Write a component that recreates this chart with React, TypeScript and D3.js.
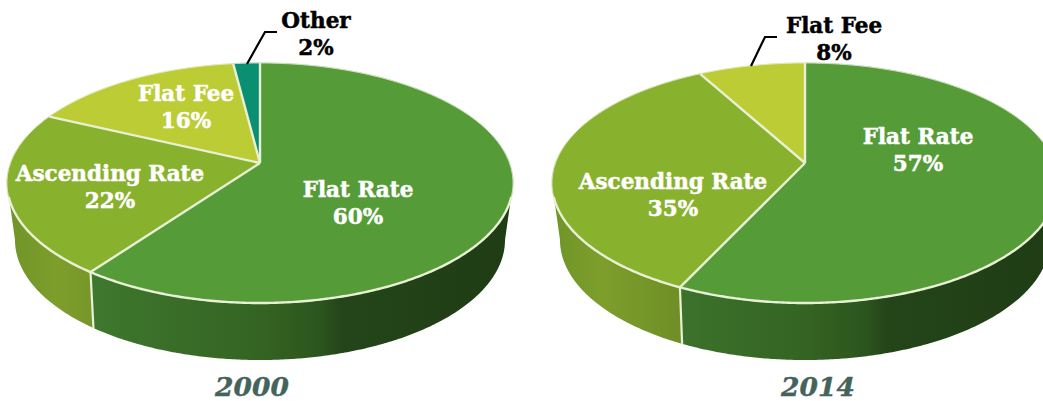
import React from 'react';
import * as d3 from "d3";

const width = 1043;
const height = 401;

const years = ["2000", "2014"];
const categories2000 = ["Flat Rate", "Ascending Rate", "Flat Fee", "Other"];
const values2000 = [60, 22, 16, 2];
const categories2014 = ["Flat Rate", "Ascending Rate", "Flat Fee"];
const values2014 = [57, 35, 8];

const topColors: any = {
    "Flat Rate": "#559c39",
    "Ascending Rate": "#88b12e",
    "Flat Fee": "#bbcc35",
    "Other": "#0b8f73",
};

// horizontal shading of the rim, offset is a share of the pie's width
const sideStops: any = {
    "Flat Rate": [[0.14, "#3f7a2e"], [0.3, "#3a6f29"], [0.5, "#346422"], [0.62, "#2c551e"], [0.66, "#24451a"], [1, "#1f3c14"]],
    "Ascending Rate": [[0, "#6f9428"], [0.1, "#7d9e2b"], [0.3, "#6a8a25"]],
    "Flat Fee": [[0, "#8a9a2b"], [1, "#8a9a2b"]],
    "Other": [[0, "#0a6f5a"], [1, "#0a6f5a"]],
};

const pieLayouts = [
    {
        cx: 260,
        yearX: 252,
        labels: [
            { x: 358, y: 197, fill: "#fff" },
            { x: 110, y: 181, fill: "#fff" },
            { x: 186, y: 101, fill: "#fff" },
            { x: 316, y: 28, fill: "#000" },
        ],
        leader: [[247, 64], [265, 32], [277, 32]],
    },
    {
        cx: 805,
        yearX: 818,
        labels: [
            { x: 918, y: 144, fill: "#fff" },
            { x: 673, y: 189, fill: "#fff" },
            { x: 834, y: 33, fill: "#000" },
        ],
        leader: [[751, 66], [765, 37], [777, 37]],
    },
];

// the top face is a tilted circle, so the pie's centre sits above the ellipse's centre
const rx = 253;
const ry = 120;
const cy = 183;
const apexY = 163;
const bottomRx = 245;
const bottomRy = 120;
const bottomCy = 240;
const vanishY = 3500;
const edgeColor = "#e9f0d6";
const labelFont = "'DejaVu Serif', serif";

const project = (cx: number, angle: number): [number, number] => {
    const y0 = (apexY - cy) / ry;
    const u = Math.sin(angle);
    const v = -Math.cos(angle);
    const d = 1 + v * y0;
    return [cx + rx * u * Math.sqrt(1 - y0 * y0) / d, cy + ry * (v + y0) / d];
};

// walk a rim point towards the vanishing point below the pie
const extrude = (cx: number, p: [number, number], len: number): [number, number] => {
    const dx = cx - p[0];
    const dy = vanishY - p[1];
    const t = len / dy;
    return [p[0] + dx * t, p[1] + dy * t];
};

const line = d3.line();
const samples = (a0: number, a1: number) => {
    const n = Math.max(2, Math.ceil((a1 - a0) / 0.01));
    return d3.range(n + 1).map((i) => a0 + ((a1 - a0) * i) / n);
};

function Pie3D({ year, categories, values, layout, index }: any) {
    const { cx } = layout;
    const arcs = d3.pie<number>().sort(null)(values);
    const toX = d3.scaleLinear().domain([0, 1]).range([cx - rx, cx + rx]);

    const ellipseBottom = (r: number, h: number, c: number) =>
        samples(0, Math.PI).map((t) => [cx + r * Math.cos(t), c + h * Math.sin(t)] as [number, number]);
    const hull = [...ellipseBottom(rx, ry, cy), ...ellipseBottom(bottomRx, bottomRy, bottomCy).reverse()];
    const clipId = `rim-${index}`;

    const rimPoints = samples(0, 2 * Math.PI).map((t) => project(cx, t));
    const frontRim = rimPoints.filter((p) => p[1] >= cy + 14);

    return (
        <g>
            <defs>
                <clipPath id={clipId}>
                    <path d={line(hull) + "Z"} />
                </clipPath>
                {categories.map((c: string, i: number) => (
                    <linearGradient key={c} id={`side-${index}-${i}`} gradientUnits="userSpaceOnUse" x1={toX(0)} x2={toX(1)} y1={0} y2={0}>
                        {sideStops[c].map((s: any) => (
                            <stop key={s[0]} offset={s[0]} stopColor={s[1]} />
                        ))}
                    </linearGradient>
                ))}
            </defs>

            <g clipPath={`url(#${clipId})`}>
                {arcs.map((a: any, i: number) => {
                    const top = samples(a.startAngle, a.endAngle)
                        .map((t) => project(cx, t))
                        .filter((p) => p[1] >= cy - 1);
                    if (top.length < 2) return null;
                    const low = top.map((p) => extrude(cx, p, 90)).reverse();
                    return <path key={i} d={line([...top, ...low]) + "Z"} fill={`url(#side-${index}-${i})`} />;
                })}
                {arcs.map((a: any, i: number) => {
                    const p = project(cx, a.endAngle);
                    if (p[1] < cy) return null;
                    return <path key={i} d={line([p, extrude(cx, p, 90)]) ?? ""} stroke={edgeColor} strokeWidth={2.2} fill="none" />;
                })}
            </g>

            {arcs.map((a: any, i: number) => {
                const pts = samples(a.startAngle, a.endAngle).map((t) => project(cx, t));
                return (
                    <path
                        key={i}
                        d={line([[cx, apexY], ...pts]) + "Z"}
                        fill={topColors[categories[i]]}
                        stroke={topColors[categories[i]]}
                        strokeWidth={0.6}
                    />
                );
            })}

            {/* faint edge round the back, full white edge along the front */}
            <path d={line(rimPoints) + "Z"} fill="none" stroke={edgeColor} strokeWidth={0.8} />
            <path d={line(frontRim) ?? ""} fill="none" stroke={edgeColor} strokeWidth={2.4} strokeLinecap="round" />
            {arcs.map((a: any, i: number) => (
                <path key={i} d={line([[cx, apexY], project(cx, a.endAngle)]) ?? ""} stroke={edgeColor} strokeWidth={2.4} fill="none" />
            ))}

            <path d={line(layout.leader) ?? ""} fill="none" stroke="#000" strokeWidth={2.2} />

            {categories.map((c: string, i: number) => {
                const l = layout.labels[i];
                return (
                    <text key={c} textAnchor="middle" fontFamily={labelFont} fontWeight="bold" fontSize={21.5} fill={l.fill} stroke={l.fill} strokeWidth={0.5}>
                        <tspan x={l.x} y={l.y}>{c}</tspan>
                        <tspan x={l.x} y={l.y + 27}>{values[i]}%</tspan>
                    </text>
                );
            })}

            <text x={layout.yearX} y={396} textAnchor="middle" fontFamily={labelFont} fontWeight="bold" fontStyle="italic" fontSize={26.5} fill="#44635a" stroke="#44635a" strokeWidth={0.4}>
                {year}
            </text>
        </g>
    );
}

export default function App() {
    return (
        <svg width={width} height={height} style={{ position: "absolute", left: 0, top: 0, background: "#fff" }}>
            <Pie3D year={years[0]} categories={categories2000} values={values2000} layout={pieLayouts[0]} index={0} />
            <Pie3D year={years[1]} categories={categories2014} values={values2014} layout={pieLayouts[1]} index={1} />
        </svg>
    );
}
